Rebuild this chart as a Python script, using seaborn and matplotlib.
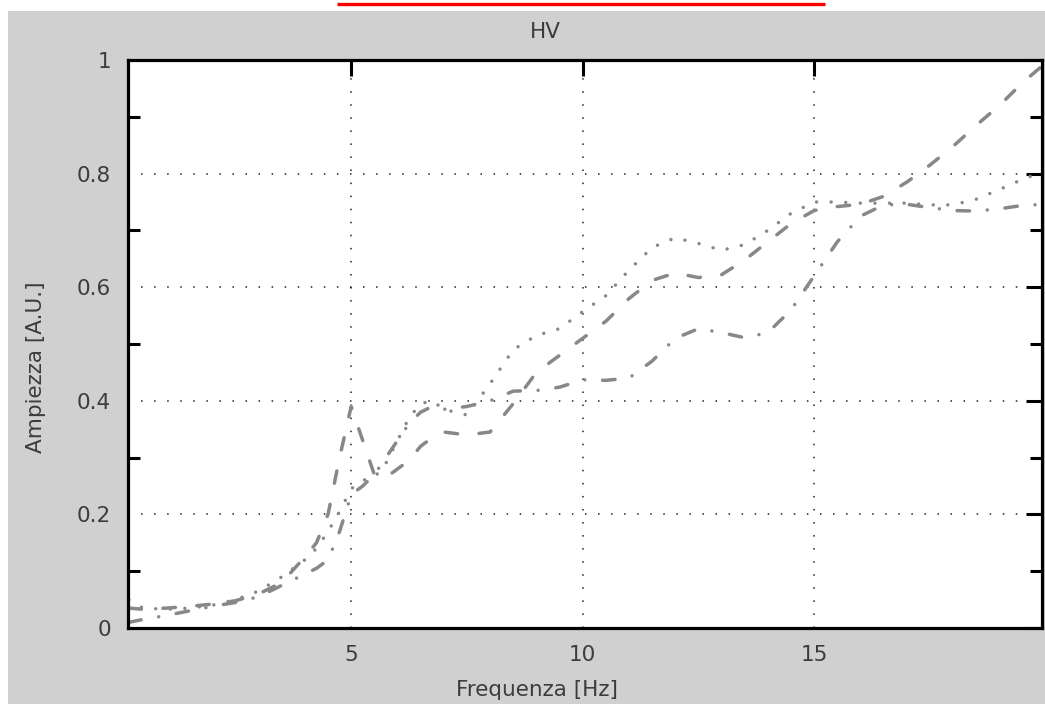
import matplotlib
matplotlib.use("Agg")
import matplotlib.pyplot as plt
import seaborn as sns
from matplotlib.patches import Rectangle
from matplotlib.lines import Line2D
from matplotlib.ticker import MultipleLocator

# ---- data ----
freq = [0.2, 0.5, 1, 1.5, 2, 2.5, 3, 3.5, 4, 4.25, 4.5, 4.75, 5, 5.25, 5.5, 5.75,
        6, 6.25, 6.5, 6.75, 7, 7.5, 8, 8.5, 9, 9.5, 10, 10.5, 11, 11.5, 12, 12.5,
        13, 13.5, 14, 14.5, 15, 15.5, 16, 16.5, 17, 17.5, 18, 18.5, 19, 19.5, 20]

hv_dashed = [0.035, 0.033, 0.035, 0.038, 0.042, 0.048, 0.06, 0.08, 0.125, 0.15, 0.2, 0.3,
             0.39, 0.33, 0.27, 0.265, 0.28, 0.295, 0.32, 0.335, 0.345, 0.34, 0.345, 0.395,
             0.45, 0.48, 0.51, 0.54, 0.58, 0.612, 0.625, 0.617, 0.622, 0.648, 0.68, 0.712,
             0.735, 0.742, 0.746, 0.76, 0.785, 0.815, 0.848, 0.885, 0.92, 0.96, 0.995]

hv_dotted = [0.05, 0.035, 0.033, 0.035, 0.04, 0.05, 0.065, 0.09, 0.12, 0.14, 0.17, 0.205,
             0.245, 0.26, 0.265, 0.29, 0.33, 0.37, 0.395, 0.40, 0.385, 0.375, 0.43, 0.49,
             0.515, 0.527, 0.557, 0.585, 0.63, 0.67, 0.687, 0.677, 0.665, 0.675, 0.70, 0.73,
             0.75, 0.75, 0.748, 0.748, 0.748, 0.745, 0.745, 0.755, 0.772, 0.79, 0.805]

hv_dashdot = [0.01, 0.015, 0.022, 0.03, 0.038, 0.045, 0.055, 0.075, 0.095, 0.105, 0.12, 0.17,
              0.235, 0.25, 0.27, 0.30, 0.33, 0.36, 0.38, 0.39, 0.385, 0.39, 0.40, 0.417,
              0.418, 0.424, 0.437, 0.436, 0.44, 0.47, 0.51, 0.527, 0.52, 0.511, 0.52, 0.56,
              0.62, 0.68, 0.725, 0.745, 0.746, 0.74, 0.735, 0.734, 0.738, 0.744, 0.746]

xticks = [5, 10, 15]
xtick_labels = ["5", "10", "15"]
yticks = [0, 0.2, 0.4, 0.6, 0.8, 1]
ytick_labels = ["0", "0.2", "0.4", "0.6", "0.8", "1"]

title = "HV"
xlabel = "Frequenza [Hz]"
ylabel = "Ampiezza [A.U.]"

# ---- style ----
sns.set_style("white")
plt.rcParams["font.family"] = ["DejaVu Sans"]
plt.rcParams["lines.scale_dashes"] = False

W, H = 1045, 704
fig = plt.figure(figsize=(W / 100, H / 100), dpi=100, facecolor="white")
fig.patches.append(Rectangle((8 / W, 0), 1, 1 - 11 / H, transform=fig.transFigure,
                             facecolor="#d0d0d0", edgecolor="none", zorder=-10))
fig.lines.append(Line2D([337 / W, 825 / W], [1 - 4 / H, 1 - 4 / H], transform=fig.transFigure,
                        color="#ff0000", lw=2.4, solid_capstyle="butt", zorder=-5))

ax = fig.add_axes([128 / W, 1 - 628 / H, (1042 - 128) / W, (628 - 60) / H])
ax.set_zorder(1)
ax.set_facecolor("white")

line_color = "#888888"
common = dict(ax=ax, color=line_color, lw=2.5, errorbar=None, sort=False,
              dash_capstyle="round", solid_capstyle="round")
sns.lineplot(x=freq, y=hv_dashed, linestyle=(0, (9, 15.5)), **common)
sns.lineplot(x=freq, y=hv_dotted, linestyle=(0, (0.01, 10.5)), **common)
sns.lineplot(x=freq, y=hv_dashdot, linestyle=(0, (9, 12.8, 0.01, 12.8)), **common)

ax.set_xlim(0.18, 19.92)
ax.set_ylim(0, 1)
ax.set_xticks(xticks)
ax.set_xticklabels(xtick_labels)
ax.set_yticks(yticks)
ax.set_yticklabels(ytick_labels)
ax.yaxis.set_minor_locator(MultipleLocator(0.1))

ax.grid(True, which="major", color="#222222", linestyle=(0, (1.1, 8.3)), linewidth=1.1)
ax.set_axisbelow(True)

for s in ax.spines.values():
    s.set_visible(True)
    s.set_color("black")
    s.set_linewidth(2.3)

txt_color = "#3c3c3c"
fs = 15.5
ax.tick_params(axis="both", which="major", direction="in", length=11.5, width=2.2,
               top=True, right=True, color="black", labelcolor=txt_color,
               labelsize=fs, pad=12)
ax.tick_params(axis="y", which="minor", direction="in", length=8.5, width=2.2,
               left=True, right=True, color="black")

ax.set_xlabel(xlabel, fontsize=fs, color=txt_color, va="center")
ax.xaxis.set_label_coords((537 - 128) / 914, -(690 - 628) / 568)
ax.set_ylabel(ylabel, fontsize=fs, color=txt_color, va="center")
ax.yaxis.set_label_coords(-(128 - 36) / 914, (628 - 367) / 568)
ax.set_title(title, fontsize=fs, color=txt_color, va="center", pad=0,
             x=(545 - 128) / 914, y=1 + (60 - 32) / 568)

fig.savefig("out.png", dpi=100, facecolor=fig.get_facecolor())
